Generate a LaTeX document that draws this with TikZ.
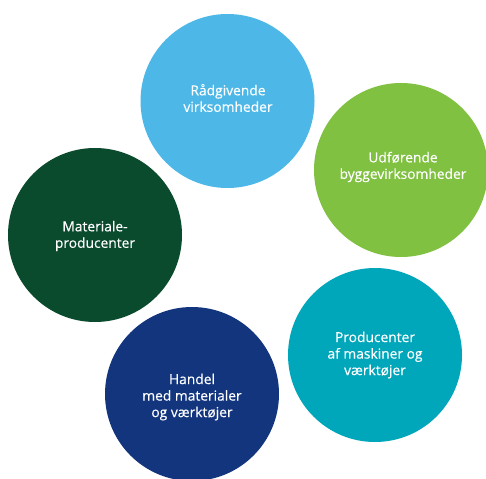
\documentclass[tikz,border=0pt]{standalone}
\usepackage{fontspec}
\setmainfont{Open Sans}
\newfontfamily\lblfont{Open Sans}[FakeBold=0.4]
\definecolor{cblue}{HTML}{4DB8E8}
\definecolor{cgreen}{HTML}{80C142}
\definecolor{cdark}{HTML}{0A4A2D}
\definecolor{cteal}{HTML}{00A6BA}
\definecolor{cnavy}{HTML}{12357E}
\begin{document}
\begin{tikzpicture}[x=1pt,y=-1pt,
  bubble/.style={circle,minimum size=174pt,inner sep=0pt},
  lbl/.style={text=white,align=center,font=\lblfont\fontsize{13.8}{16.5}\selectfont}]
\useasboundingbox (0,0) rectangle (486,478);
\clip (0,0) rectangle (486,478);
\fill[white] (0,0) rectangle (486,478);
\node[bubble,fill=cblue] (c1) at (227.5,101) {};
\node[bubble,fill=cgreen] (c2) at (401,170) {};
\node[bubble,fill=cdark] (c3) at (95,235) {};
\node[bubble,fill=cteal] (c4) at (375,355) {};
\node[bubble,fill=cnavy] (c5) at (192,394) {};
\node[lbl] (t1) at (228,98) {Rådgivende\\virksomheder};
\node[lbl] (t2) at (403,167) {Udførende\\byggevirksomheder};
\node[lbl] (t3) at (95,236) {Materiale-\\producenter};
\node[lbl] (t4) at (375,355) {Producenter\\af maskiner og\\værktøjer};
\node[lbl] (t5) at (192,397) {Handel\\med materialer\\og værktøjer};
\end{tikzpicture}
\end{document}
